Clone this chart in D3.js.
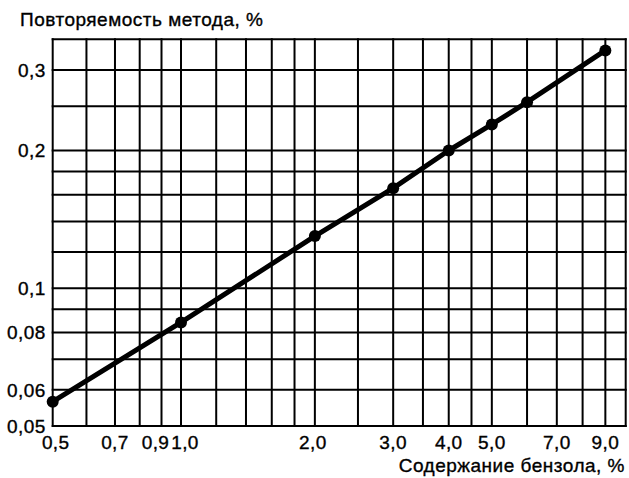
<!DOCTYPE html>
<html>
<head>
<meta charset="utf-8">
<script src="https://cdn.jsdelivr.net/npm/d3@7"></script>
<style>
  html, body { margin: 0; padding: 0; background: #fff; }
  svg { display: block; }
  text { font-family: "Liberation Sans", Arial, Helvetica, sans-serif; fill: #000; stroke: #000; stroke-width: 0.35px; }
</style>
</head>
<body>
<svg id="chart" width="629" height="478"></svg>
<script>
// ---- data ----
const xValues = [0.5, 1.0, 2.0, 3.0, 4.0, 5.0, 6.0, 9.0];
const yValues = [0.0565, 0.0842, 0.130, 0.1655, 0.200, 0.228, 0.255, 0.331];
const xGrid = [0.5, 0.6, 0.7, 0.8, 0.9, 1.0, 1.2, 1.4, 1.6, 1.8, 2.0, 2.5, 3.0, 3.5, 4.0, 4.5, 5.0, 6.0, 7.0, 8.0, 9.0, 10.0];
const yGrid = [0.05, 0.06, 0.07, 0.08, 0.09, 0.1, 0.12, 0.14, 0.16, 0.18, 0.2, 0.25, 0.3, 0.35];
const xTickValues = [0.5, 0.7, 0.9, 1.0, 2.0, 3.0, 4.0, 5.0, 7.0, 9.0];
const xTickLabels = ["0,5", "0,7", "0,9", "1,0", "2,0", "3,0", "4,0", "5,0", "7,0", "9,0"];
const yTickValues = [0.05, 0.06, 0.08, 0.1, 0.2, 0.3];
const yTickLabels = ["0,05", "0,06", "0,08", "0,1", "0,2", "0,3"];
const yTitle = "Повторяемость метода, %";
const xTitle = "Содержание бензола, %";

// ---- layout ----
const mLeft = 52.7, mRight = 625.7, mTop = 39.3, mBottom = 426;
const svg = d3.select("#chart");

const x = d3.scaleLog().domain([0.5, 1, 10]).range([mLeft, 181, mRight]);
const y = d3.scaleLog().domain([0.05, 0.35]).range([mBottom, mTop]);

// grid
const g = svg.append("g");
g.selectAll("line.vx").data(xGrid).enter().append("line")
  .attr("x1", d => x(d)).attr("x2", d => x(d))
  .attr("y1", y(0.05) + 1).attr("y2", y(0.35) - 1)
  .attr("stroke", "#000").attr("stroke-width", 2);
g.selectAll("line.hy").data(yGrid).enter().append("line")
  .attr("y1", d => y(d)).attr("y2", d => y(d))
  .attr("x1", x(0.5) - 1).attr("x2", x(10) + 1)
  .attr("stroke", "#000").attr("stroke-width", 2);

// x tick labels
const xOffsets = {0.5: 3, 0.9: -6, 1.0: 4, 2.0: -2};
svg.append("g").selectAll("text").data(xTickValues).enter().append("text")
  .attr("x", d => x(d) + (xOffsets[d] || 0))
  .attr("y", 449)
  .attr("text-anchor", "middle")
  .attr("font-size", 19)
  .attr("letter-spacing", 0.4)
  .text((d, i) => xTickLabels[i]);

// y tick labels
svg.append("g").selectAll("text").data(yTickValues).enter().append("text")
  .attr("x", mLeft - 7)
  .attr("y", d => y(d) + 6.8)
  .attr("text-anchor", "end")
  .attr("font-size", 19)
  .attr("letter-spacing", 0.4)
  .text((d, i) => yTickLabels[i]);

// titles
svg.append("text").attr("x", 20).attr("y", 26).attr("font-size", 19)
  .attr("letter-spacing", 0.5).text(yTitle);
svg.append("text").attr("x", 625).attr("y", 472).attr("text-anchor", "end").attr("font-size", 19)
  .attr("letter-spacing", 0.5).text(xTitle);

// data line and points
const pts = xValues.map((v, i) => [v, yValues[i]]);
svg.append("path").datum(pts)
  .attr("d", d3.line().x(d => x(d[0])).y(d => y(d[1])))
  .attr("fill", "none").attr("stroke", "#000").attr("stroke-width", 5)
  .attr("stroke-linejoin", "round").attr("stroke-linecap", "round");
svg.append("g").selectAll("circle").data(pts).enter().append("circle")
  .attr("cx", d => x(d[0])).attr("cy", d => y(d[1])).attr("r", 6).attr("fill", "#000");
</script>
</body>
</html>
